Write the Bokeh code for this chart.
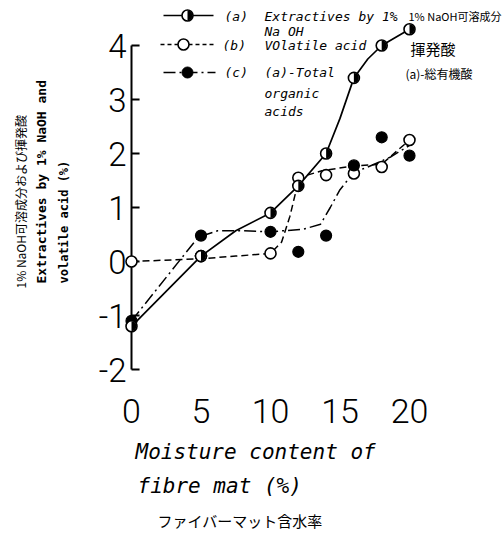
import math
from bokeh.plotting import figure
from bokeh.models import Range1d, Label
from bokeh.core.properties import value
from bokeh.embed import file_html
from bokeh.resources import INLINE

# ---------------- data ----------------
moisture = [0, 5, 10, 12, 14, 16, 18, 20]
extractives_a = [-1.2, 0.1, 0.9, 1.4, 2.0, 3.4, 4.0, 4.3]
volatile_b = [0.0, 0.1, 0.15, 1.55, 1.6, 1.63, 1.75, 2.25]
difference_c = [-1.1, 0.48, 0.55, 0.18, 0.48, 1.78, 2.3, 1.96]

# hand-drawn curves
curve_a_x = [0, 5, 7.5, 10, 12, 14, 15, 16, 17, 18, 20]
curve_a_y = [-1.2, 0.1, 0.57, 0.9, 1.4, 2.0, 2.65, 3.4, 3.75, 4.0, 4.3]
curve_b_x = [0, 5, 7.5, 10, 10.8, 11.4, 11.8, 12, 13.7, 16, 18, 20]
curve_b_y = [0, 0.05, 0.1, 0.15, 0.36, 0.84, 1.27, 1.55, 1.68, 1.77, 1.8, 2.25]
curve_c_x = [0, 4.8, 6.2, 7.8, 10, 12.4, 13.6, 14.3, 15, 16, 17, 18.6, 20]
curve_c_y = [-1.1, 0.45, 0.57, 0.57, 0.55, 0.6, 0.69, 1.0, 1.33, 1.65, 1.75, 1.93, 2.15]

x_ticks = [0, 5, 10, 15, 20]
y_ticks = [-2, -1, 0, 1, 2, 3, 4]
x_tick_labels = [str(t) for t in x_ticks]
y_tick_labels = [str(t) for t in y_ticks]

# ---------------- layout ----------------
W, H = 502, 534
X0PIX, XS = 131.0, 13.9
Y0PIX, YS = 261.0, 54.0


def px(xp):
    return (xp - X0PIX) / XS


def py(yp):
    return (Y0PIX - yp) / YS


p = figure(width=W, height=H, output_backend="svg", toolbar_location=None,
           x_range=Range1d(px(0), px(W)), y_range=Range1d(py(H), py(0)),
           x_axis_location=None, y_axis_location=None,
           min_border=0, min_border_left=0, min_border_right=0,
           min_border_top=0, min_border_bottom=0)
p.grid.visible = False
p.outline_line_color = None
p.background_fill_color = "white"
p.border_fill_color = "white"

NUM_FONT = "Roboto Light"

# axis line, inward ticks and tick labels
p.segment(x0=[0], y0=[y_ticks[0]], x1=[0], y1=[y_ticks[-1]],
          line_color="black", line_width=2)
p.segment(x0=[0] * len(y_ticks), y0=y_ticks, x1=[0.58] * len(y_ticks), y1=y_ticks,
          line_color="black", line_width=2)
p.text(x=[px(126)] * len(y_ticks), y=y_ticks, text=y_tick_labels,
       text_font=value(NUM_FONT), text_font_size="33px", text_color="black",
       text_align="right", text_baseline="middle")
p.text(x=x_ticks, y=[py(410)] * len(x_ticks), text=x_tick_labels,
       text_font=value(NUM_FONT), text_font_size="34px", text_color="black",
       text_align="center", text_baseline="middle")

# ---------------- curves ----------------
LW = 1.7
p.line(curve_a_x, curve_a_y, line_color="black", line_width=LW)
p.line(curve_b_x, curve_b_y, line_color="black", line_width=1.5, line_dash="7 4")
p.line(curve_c_x, curve_c_y, line_color="black", line_width=1.5, line_dash="12 4 2 4")

# ---------------- markers ----------------
MS = 11
p.scatter(moisture, volatile_b, marker="circle", size=MS, fill_color="white",
          line_color="black", line_width=1.6)
p.scatter(moisture, difference_c, marker="circle", size=MS, fill_color="black",
          line_color="black", line_width=1.2)
p.scatter(moisture, extractives_a, marker="circle", size=MS, fill_color="white",
          line_color="black", line_width=1.6)
p.wedge(x=moisture, y=extractives_a, radius=5, radius_units="screen",
        start_angle=-math.pi / 2, end_angle=math.pi / 2,
        fill_color="black", line_color=None)

# ---------------- legend keys ----------------
ka = py(15)
p.line([px(163), px(213)], [ka, ka], line_color="black", line_width=LW)
p.scatter([px(187)], [ka], marker="circle", size=MS, fill_color="white",
          line_color="black", line_width=1.6)
p.wedge(x=[px(187)], y=[ka], radius=5, radius_units="screen",
        start_angle=-math.pi / 2, end_angle=math.pi / 2,
        fill_color="black", line_color=None)
kb = py(44)
p.line([px(160), px(215)], [kb, kb], line_color="black", line_width=1.3, line_dash="4 3")
p.scatter([px(183)], [kb], marker="circle", size=MS, fill_color="white",
          line_color="black", line_width=1.6)
kc = py(72)
p.line([px(163), px(215)], [kc, kc], line_color="black", line_width=1.5, line_dash="12 4 2 4")
p.scatter([px(187)], [kc], marker="circle", size=MS, fill_color="black",
          line_color="black")

# ---------------- texts ----------------
MONO = "DejaVu Sans Mono"
JP = "Noto Sans CJK JP"


def lab(text, xp, yp, size, font=MONO, style="italic", angle=0.0):
    p.add_layout(Label(x=px(xp), y=py(yp), text=text, text_font=font,
                       text_font_style=style, text_font_size=f"{size}px",
                       text_color="black", text_baseline="middle",
                       text_align="left", angle=angle))


lab("(a)", 224, 16, 13)
lab("Extractives by 1%", 264, 16, 13)
lab("Na OH", 264, 31, 13)
lab("(b)", 222, 45, 13)
lab("VOlatile acid", 264, 45, 13)
lab("(c)", 224, 72, 13)
lab("(a)-Total", 264, 72, 13)
lab("organic", 264, 93, 13)
lab("acids", 264, 111, 13)

lab("1% NaOH可溶成分", 408, 15, 11, font=JP, style="normal")
lab("揮発酸", 410, 48, 15, font=JP, style="normal")
lab("(a)-総有機酸", 405, 73, 12, font=JP, style="normal")

lab("1% NaOH可溶成分および揮発酸", 20, 288, 12, font=JP, style="normal", angle=math.pi / 2)
lab("Extractives by 1% NaOH and", 41, 283, 13, style="bold", angle=math.pi / 2)
lab("volatile acid (%)", 63, 283, 12, style="bold", angle=math.pi / 2)

lab("Moisture content of", 135, 451, 21)
lab("fibre mat (%)", 137, 485, 21)
lab("ファイバーマット含水率", 157, 520, 15, font=JP, style="normal")

open("out.html", "w").write(file_html(p, INLINE))
